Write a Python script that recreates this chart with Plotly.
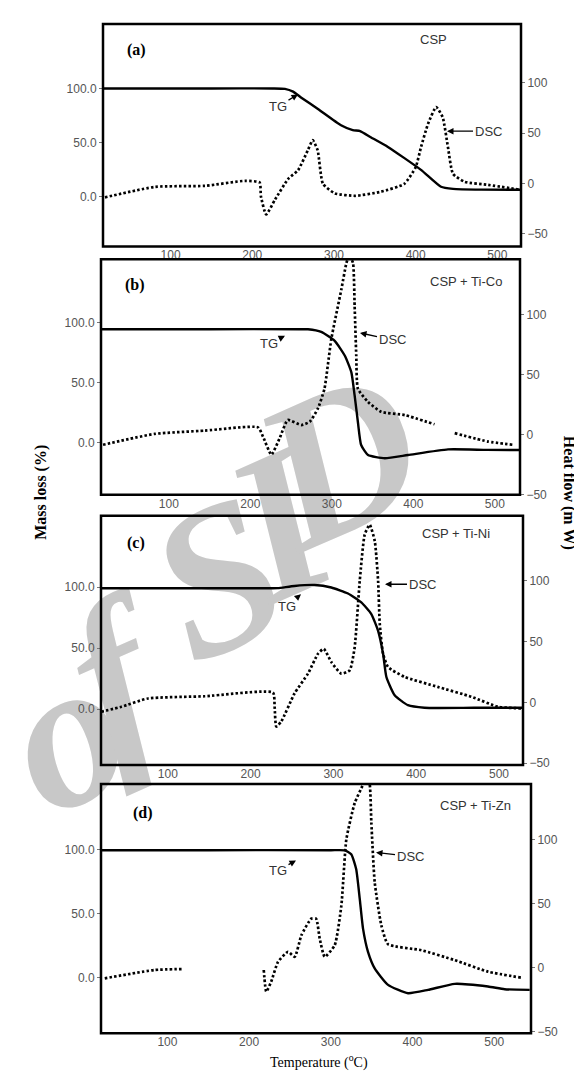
import plotly.graph_objects as go

W, H = 582, 1080

# ---------------- data ----------------
# Panel (a) CSP
tg_a_T = [17, 150, 225, 240, 250, 259.6, 280.4, 308.6, 323, 332, 345, 366, 406.5, 431, 445.7, 480, 529]
tg_a_v = [100, 100, 100, 99.6, 97, 91.7, 81, 66, 61.5, 60.6, 55, 46, 24.8, 9.2, 7.3, 6.6, 6.4]
dsc_a_T = [19.7, 81, 142, 191, 209, 210.6, 217, 228, 244, 256, 268, 274, 280, 286.5, 301, 326,
           357.5, 386, 400, 406.5, 415, 425, 433, 439.5, 445.7, 460, 488.5, 527.7]
dsc_a_v = [-14, -3.5, -2.5, 2.5, 0.8, -13, -31, -16, 4.5, 13, 33, 43, 33, -0.5, -10, -12.4,
           -8.4, -0.5, 16, 36, 59, 76, 66, 36, 9.4, 1.5, -1.5, -6.4]

# Panel (b) CSP + Ti-Co
tg_b_T = [16.8, 150, 260, 270.8, 287, 303.5, 316, 324, 328, 332, 336, 344.4, 365, 393.5, 442.6, 490, 530.5]
tg_b_v = [94.4, 94.4, 94.4, 94.3, 92.1, 84.7, 72.3, 58.5, 39.3, 17.2, -2, -10.3, -13, -10.3, -5.6, -6, -6.1]
dsc_b_T = [19.3, 82.7, 144, 209.4, 215.6, 225.8, 236, 246, 262.6, 273, 283, 291, 299.4, 311.7,
           317.8, 321.5, 326, 328, 330, 332, 344.4, 360.7, 389.4, 426, None, 450.8, 491.7, 522]
dsc_b_v = [-8.5, 0.6, 3.3, 6.1, -1.7, -16.8, -3, 12.2, 8, 10.8, 21.9, 38.4, 79.9, 121.3,
           143, 150, 143.3, 107.5, 66, 38.4, 27.3, 19, 16.3, 8.6, None, 1.2, -5.8, -8.5]

# Panel (c) CSP + Ti-Ni
tg_c_T = [19.3, 150, 225, 233, 253, 277.4, 297.5, 317.6, 333.7, 345.8, 353.9, 360, 364, 374, 390, 410, 470, 529]
tg_c_v = [99, 99, 99, 99.1, 100.9, 101.7, 99.6, 94.7, 87.4, 77.9, 64.3, 45.4, 26.4, 11.5, 3.3, 1.2, 1.2, 1.2]
dsc_c_T = [19.7, 44, 76, 144.6, 227, 229, 231, 237, 253, 269.3, 281.4, 288.3, 297.5, 309.5,
           319.7, 325.7, 331.8, 337.8, 343.8, 350, 354, 356, 360, 366, 386, 426, 466.5, 498.8, 527]
dsc_c_v = [-7.7, -3.6, 3.2, 5, 8.1, -3.6, -19.9, -15.8, 7.3, 23.6, 39.9, 44, 33.1, 23.6,
           26.3, 45.3, 99.7, 137.8, 145.9, 132.3, 99.7, 64.4, 39.9, 29, 20.9, 12.7, 4.6, -3.6, -5]

# Panel (d) CSP + Ti-Zn
tg_d_T = [18.7, 150, 300, 317, 325, 331, 335.4, 339.4, 345.5, 353.7, 370, 394.5, 419, 451.7, 492.4, 512.8, 543.4]
tg_d_v = [99.6, 99.6, 99.6, 99.5, 96.5, 84.9, 61.6, 38.4, 20.3, 7.4, -5.5, -12, -9.4, -4.7, -6.8, -8.9, -9.4]
dsc_d_T = [23.3, 84.4, 120, None, 217.9, 221, 227, 235.4, 247.6, 255.8, 264, 276, 282, 286.4,
           292.5, 304.8, 312.9, 319, 329.3, 339.4, 343.5, 347.6, 349.6, 353.7, 361.8, 370,
           410.8, 451.7, 492.4, 533]
dsc_d_v = [-8.5, -2, -1.2, None, -2, -18.9, -11.1, 4.4, 12.2, 8.3, 25.2, 38.1, 38.1, 22.5,
           8.3, 17.4, 48.5, 100.2, 128.7, 143, 150, 143, 113.2, 66.6, 33, 18.2,
           13.5, 5.7, -3.3, -8]

panel_letters = ["(a)", "(b)", "(c)", "(d)"]
panel_titles = ["CSP", "CSP + Ti-Co", "CSP + Ti-Ni", "CSP + Ti-Zn"]
x_ticks = [100, 200, 300, 400, 500]
tg_ticks = [0, 50, 100]
dsc_ticks = [-50, 0, 50, 100]
watermark_letters = ["o", "f", "S", "I", "D"]

# ---------------- layout geometry ----------------
def px(x):
    return x / W

def py(y):
    return 1 - y / H

panels = [
    dict(box=(95, 16, 513, 240), xr=[17.3, 528.9], yl=[-45.9, 159.6], yr=[-62.9, 158.9],
         tg=(tg_a_T, tg_a_v), dsc=(dsc_a_T, dsc_a_v),
         letter=(128, 42), title=(425, 32),
         tg_lab=dict(head=(290, 87), off=(-20, 12)), dsc_lab=dict(head=(439, 124), off=(41, 0))),
    dict(box=(93, 253, 512, 490), xr=[16.8, 530.9], yl=[-43.4, 152.5], yr=[-50.3, 146.4],
         tg=(tg_b_T, tg_b_v), dsc=(dsc_b_T, dsc_b_v),
         letter=(127, 279), title=(458, 275),
         tg_lab=dict(head=(277, 330), off=(-16, 8)), dsc_lab=dict(head=(352, 327), off=(32, 7))),
    dict(box=(93, 511, 515, 762), xr=[19.3, 529], yl=[-45.7, 158.4], yr=[-51.5, 153.3],
         tg=(tg_c_T, tg_c_v), dsc=(dsc_c_T, dsc_c_v),
         letter=(128, 538), title=(448, 529),
         tg_lab=dict(head=(293, 590), off=(-14, 12)), dsc_lab=dict(head=(377, 580), off=(37, 0))),
    dict(box=(93, 781, 523, 1032), xr=[18.7, 545], yl=[-43.3, 151.3], yr=[-51.5, 143.5],
         tg=(tg_d_T, tg_d_v), dsc=(dsc_d_T, dsc_d_v),
         letter=(135, 810), title=(467, 803),
         tg_lab=dict(head=(288, 858), off=(-18, 10)), dsc_lab=dict(head=(368, 850), off=(34, 4))),
]
# watermark letter anchor points (pixels)
wm_pos = [(48, 708), (94, 652), (200, 552), (262, 498), (322, 432)]

tick_font = dict(family="Liberation Sans, Arial", size=12, color="#555555")
lab_font = dict(family="Liberation Sans, Arial", size=13, color="#333333")

fig = go.Figure()
layout = dict(width=W, height=H, margin=dict(l=0, r=0, t=0, b=0), autosize=False,
              paper_bgcolor="white", plot_bgcolor="rgba(0,0,0,0)", showlegend=False)
annotations = []
shapes = []

# watermark (drawn below the curves)
for ch, (cx, cy) in zip(watermark_letters, wm_pos):
    shapes.append(dict(type="rect", xref="paper", yref="paper", layer="below",
                       x0=px(cx - 1), x1=px(cx + 1), y0=py(cy + 1), y1=py(cy - 1),
                       line=dict(width=0), fillcolor="rgba(0,0,0,0)",
                       label=dict(text=f"<b><i>{ch}</i></b>", textangle=-24,
                                  textposition="middle center",
                                  font=dict(family="Liberation Serif, Times New Roman",
                                            size=210, color="rgb(200,200,200)"))))

for i, p in enumerate(panels):
    k = i + 1
    xname = "x" if k == 1 else f"x{k}"
    yl_id = 2 * k - 1
    yr_id = 2 * k
    yl_name = "y" if yl_id == 1 else f"y{yl_id}"
    yr_name = f"y{yr_id}"
    x0, y0, x1, y1 = p["box"]

    layout["xaxis" if k == 1 else f"xaxis{k}"] = dict(
        domain=[px(x0), px(x1)], range=p["xr"], anchor=yl_name,
        tickvals=x_ticks, ticks="", showgrid=False, zeroline=False, showline=False,
        tickfont=tick_font)
    layout["yaxis" if yl_id == 1 else f"yaxis{yl_id}"] = dict(
        domain=[py(y1), py(y0)], range=p["yl"], anchor=xname,
        tickvals=tg_ticks, tickformat=".1f", ticks="outside", ticklen=3, tickcolor="#777",
        showgrid=False, zeroline=False, showline=False, tickfont=tick_font)
    layout[f"yaxis{yr_id}"] = dict(
        domain=[py(y1), py(y0)], range=p["yr"], anchor=xname, overlaying=yl_name, side="right",
        tickvals=dsc_ticks, ticks="outside", ticklen=3, tickcolor="#777",
        showgrid=False, zeroline=False, showline=False, tickfont=tick_font)

    fig.add_trace(go.Scatter(x=p["tg"][0], y=p["tg"][1], xaxis=xname, yaxis=yl_name,
                             mode="lines", line=dict(color="black", width=2.4, shape="spline",
                                                     smoothing=0.5), hoverinfo="skip"))
    fig.add_trace(go.Scatter(x=p["dsc"][0], y=p["dsc"][1], xaxis=xname, yaxis=yr_name,
                             mode="lines", connectgaps=False,
                             line=dict(color="black", width=2.7, dash="2.5px,2.2px", shape="spline",
                                       smoothing=0.5), hoverinfo="skip"))

    shapes.append(dict(type="rect", xref="paper", yref="paper",
                       x0=px(x0), x1=px(x1), y0=py(y1), y1=py(y0),
                       line=dict(color="black", width=2.5), layer="above"))

    annotations.append(dict(text=f"<b>{panel_letters[i]}</b>", x=px(p["letter"][0]),
                            y=py(p["letter"][1]), xref="paper", yref="paper", showarrow=False,
                            font=dict(family="Liberation Serif, Times New Roman", size=16,
                                      color="black"), xanchor="center", yanchor="middle"))
    annotations.append(dict(text=panel_titles[i], x=px(p["title"][0]), y=py(p["title"][1]),
                            xref="paper", yref="paper", showarrow=False, font=lab_font,
                            xanchor="center", yanchor="middle"))
    for name, key in (("TG", "tg_lab"), ("DSC", "dsc_lab")):
        hx, hy = p[key]["head"]
        ox, oy = p[key]["off"]
        annotations.append(dict(text=name, x=px(hx), y=py(hy), xref="paper", yref="paper",
                                ax=ox, ay=oy, showarrow=True, arrowhead=2, arrowsize=1,
                                arrowwidth=1.3, arrowcolor="black", font=lab_font))

# axis titles
annotations.append(dict(text="<b>Mass loss (%)</b>", x=px(22), y=py(488), xref="paper",
                        yref="paper", showarrow=False, textangle=-90,
                        font=dict(family="Liberation Serif, Times New Roman", size=16,
                                  color="black")))
annotations.append(dict(text="<b>Heat flow (m W)</b>", x=px(572), y=py(488), xref="paper",
                        yref="paper", showarrow=False, textangle=90,
                        font=dict(family="Liberation Serif, Times New Roman", size=16,
                                  color="black")))
annotations.append(dict(text="Temperature (<sup>o</sup>C)", x=px(311), y=py(1072), xref="paper",
                        yref="paper", showarrow=False,
                        font=dict(family="Liberation Serif, Times New Roman", size=14,
                                  color="black")))

layout["annotations"] = annotations
layout["shapes"] = shapes
fig.update_layout(**layout)
fig.write_html("out.html")
